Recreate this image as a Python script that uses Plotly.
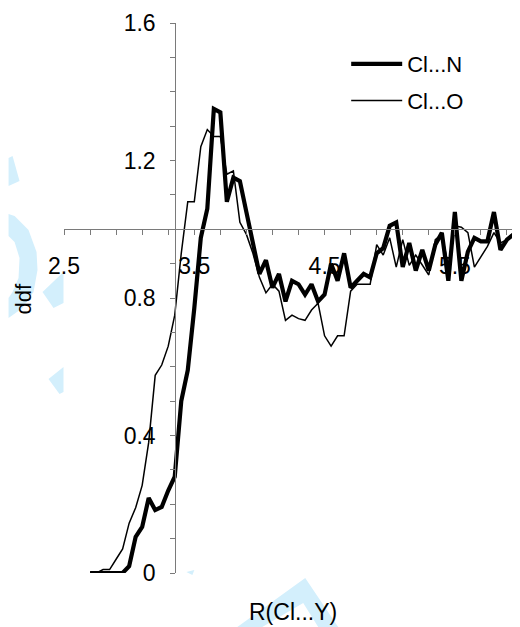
import plotly.graph_objects as go

# ---- data ----
r_values = [2.70, 2.75, 2.80, 2.85, 2.90, 2.95, 3.00, 3.05, 3.10, 3.15,
            3.20, 3.25, 3.30, 3.35, 3.40, 3.45, 3.50, 3.55, 3.60, 3.65,
            3.70, 3.75, 3.80, 3.85, 3.90, 3.95, 4.00, 4.05, 4.10, 4.15,
            4.20, 4.25, 4.30, 4.35, 4.40, 4.45, 4.50, 4.55, 4.60, 4.65,
            4.70, 4.75, 4.80, 4.85, 4.90, 4.95, 5.00, 5.05, 5.10, 5.15,
            5.20, 5.25, 5.30, 5.35, 5.40, 5.45, 5.50, 5.55, 5.60, 5.65,
            5.70, 5.75, 5.80, 5.85, 5.90, 5.95, 6.00]

cl_n = [0, 0, 0, 0, 0, 0, 0.02, 0.105, 0.134, 0.218,
        0.183, 0.192, 0.24, 0.28, 0.50, 0.59, 0.77, 0.975, 1.06, 1.35,
        1.34, 1.08, 1.15, 1.14, 1.05, 0.96, 0.87, 0.91, 0.83, 0.87,
        0.79, 0.85, 0.84, 0.81, 0.84, 0.79, 0.81, 0.90, 0.85, 0.93,
        0.83, 0.85, 0.87, 0.86, 0.93, 0.945, 1.01, 1.02, 0.89, 0.96,
        0.88, 0.94, 0.88, 0.955, 0.99, 0.85, 1.05, 0.85, 0.935, 0.975,
        0.965, 0.965, 1.05, 0.94, 0.97, 0.985, 0.97]

cl_o = [0, 0, 0.01, 0.01, 0.04, 0.07, 0.145, 0.19, 0.255, 0.38,
        0.575, 0.605, 0.66, 0.75, 0.93, 1.08, 1.08, 1.24, 1.29, 1.27,
        1.27, 1.16, 1.17, 1.02, 0.985, 0.93, 0.86, 0.815, 0.84, 0.82,
        0.735, 0.75, 0.74, 0.735, 0.765, 0.785, 0.69, 0.66, 0.69, 0.69,
        0.82, 0.84, 0.84, 0.84, 0.955, 0.925, 0.975, 0.89, 0.97, 0.895,
        0.925, 0.895, 0.867, 0.97, 0.985, 0.895, 1.01, 1.006, 0.99, 0.89,
        0.92, 0.95, 0.99, 0.96, 0.97, 0.99, 1.01]

series_names = ["Cl...N", "Cl...O"]
x_tick_vals = [2.5, 3.5, 4.5, 5.5]
x_tick_text = ["2.5", "3.5", "4.5", "5.5"]
y_tick_vals = [0, 0.4, 0.8, 1.2, 1.6]
y_tick_text = ["0", "0.4", "0.8", "1.2", "1.6"]
x_title = "R(Cl...Y)"
y_title = "ddf"

FONT = "Liberation Sans, Arial, sans-serif"
# the page body has an 8px margin: the figure is sized/offset to compensate
OFF = 8
W, H = 520 - OFF, 627 - OFF
ML, MR, MT, MB = 63.5 - OFF, 0, 23 - OFF, 54
PW, PH = W - ML - MR, H - MT - MB


def px(x, y):
    """reference-screen pixel -> paper coordinate"""
    return (x - OFF - ML) / PW, (H - MB - (y - OFF)) / PH


def poly(points):
    coords = [px(x, y) for x, y in points]
    return "M " + " L ".join(f"{a:.4f},{b:.4f}" for a, b in coords) + " Z"


wm_color = "#d3effc"
watermark_polys = [
    [(8, 158), (12, 156), (19, 181), (8, 186)],
    [(8, 214), (14, 216), (28, 230), (36, 252), (37, 270), (33, 292), (22, 308), (8, 318),
     (8, 298), (12, 292), (18, 278), (19, 258), (14, 242), (8, 236)],
    [(42, 292), (63, 272), (63, 303), (53, 308)],
    [(48, 379), (63, 367), (63, 392), (59, 394)],
    [(186, 572), (194, 570), (192, 575)],
    [(237, 627), (305, 578), (338, 627), (318, 627), (303, 603), (262, 627)],
]

fig = go.Figure()
fig.add_trace(go.Scatter(x=r_values, y=cl_n, mode="lines", name=series_names[0],
                         line=dict(color="black", width=4.2), legendgroup="a",
                         cliponaxis=False))
fig.add_trace(go.Scatter(x=r_values, y=cl_o, mode="lines", name=series_names[1],
                         line=dict(color="black", width=1.5), legendgroup="b",
                         cliponaxis=False))

shapes = []
for p in watermark_polys:
    shapes.append(dict(type="path", xref="paper", yref="paper", path=poly(p),
                       fillcolor=wm_color, line=dict(width=0), layer="below"))

axis_col = "#7a7a7a"
fig.update_layout(
    width=W, height=H,
    margin=dict(l=ML, r=MR, t=MT, b=MB, autoexpand=False),
    paper_bgcolor="white", plot_bgcolor="rgba(0,0,0,0)",
    font=dict(family=FONT, size=23, color="black"),
    showlegend=True,
    legend=dict(x=px(346, 0)[0], y=px(0, 43)[1], xanchor="left", yanchor="top",
                bgcolor="rgba(0,0,0,0)", borderwidth=0, tracegroupgap=5,
                itemwidth=51, traceorder="grouped", font=dict(family=FONT, size=22)),
    xaxis=dict(range=[2.5, 6.0], anchor="free", position=1.0 / 1.6,
               showline=True, linecolor=axis_col, linewidth=1.3,
               showgrid=False, zeroline=False,
               tickvals=x_tick_vals, ticktext=x_tick_text,
               ticks="outside", ticklen=5, tickwidth=1.3, tickcolor=axis_col,
               ticklabelstandoff=11, tickfont=dict(size=23),
               minor=dict(tick0=2.5, dtick=0.2, ticks="outside", ticklen=5,
                          tickwidth=1.3, tickcolor=axis_col, showgrid=False)),
    yaxis=dict(range=[0, 1.6], anchor="free", position=(175 - 63.5) / PW,
               showline=True, linecolor=axis_col, linewidth=1.3,
               showgrid=False, zeroline=False,
               tickvals=y_tick_vals, ticktext=y_tick_text,
               ticks="outside", ticklen=5, tickwidth=1.3, tickcolor=axis_col,
               ticklabelstandoff=10, tickfont=dict(size=23),
               minor=dict(tick0=0, dtick=0.1, ticks="outside", ticklen=5,
                          tickwidth=1.3, tickcolor=axis_col, showgrid=False)),
    shapes=shapes,
    annotations=[
        dict(text=y_title, xref="paper", yref="paper", x=px(22, 0)[0], y=px(0, 299)[1],
             textangle=-90, showarrow=False, font=dict(family=FONT, size=22),
             xanchor="center", yanchor="middle"),
        dict(text=x_title, xref="paper", yref="paper", x=px(292.5, 0)[0], y=px(0, 612)[1],
             showarrow=False, font=dict(family=FONT, size=23),
             xanchor="center", yanchor="middle"),
    ],
)

fig.write_html("out.html")
